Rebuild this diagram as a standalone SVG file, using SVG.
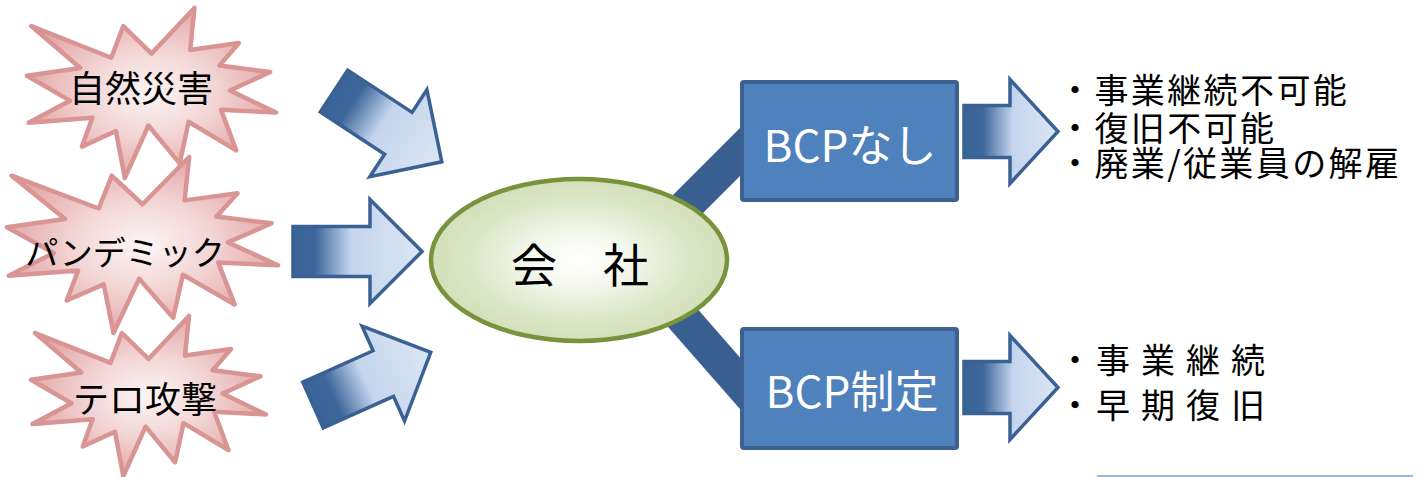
<svg xmlns="http://www.w3.org/2000/svg" xmlns:xlink="http://www.w3.org/1999/xlink" width="1426" height="477" viewBox="0 0 1426 477">
<style>
.star{fill:url(#starFill);stroke:#d99594;stroke-width:4.5;stroke-linejoin:round}
.jp{font-family:"Noto Sans CJK JP","Noto Sans",sans-serif}
.starTxt{font-size:36px;fill:#000;text-anchor:middle}
.bigArrow{fill:url(#gradL);stroke:#3a6194;stroke-width:3.5;stroke-linejoin:miter}
.smallArrow{fill:url(#gradR);stroke:#3a6194;stroke-width:3.5;stroke-linejoin:miter}
.band{stroke:#395f90;stroke-width:34;fill:none}
.box{fill:#4f81bd;stroke:#3c6191;stroke-width:4}
.boxTxt{font-size:44px;fill:#fff;text-anchor:middle}
.list{font-size:34px;fill:#000;letter-spacing:2.4px}
.list2{font-size:34px;fill:#000}
</style>
<defs>
<radialGradient id="starFill" cx="0.5" cy="0.5" r="0.5">
<stop offset="0" stop-color="#fdf5f5"/>
<stop offset="0.5" stop-color="#f3d6d6"/>
<stop offset="1" stop-color="#e4aaaa"/>
</radialGradient>
<radialGradient id="ovalFill" cx="0.5" cy="0.5" r="0.5">
<stop offset="0" stop-color="#ffffff"/>
<stop offset="0.3" stop-color="#f6f9ef"/>
<stop offset="0.75" stop-color="#dbe6c6"/>
<stop offset="1" stop-color="#d3e0ba"/>
</radialGradient>
<linearGradient id="gradL" gradientUnits="userSpaceOnUse" x1="0" y1="0" x2="129" y2="0">
<stop offset="0" stop-color="#3a6398"/>
<stop offset="0.17" stop-color="#3d669a"/>
<stop offset="0.45" stop-color="#c4d5ee"/>
<stop offset="1" stop-color="#dce6f3"/>
</linearGradient>
<linearGradient id="gradR" gradientUnits="userSpaceOnUse" x1="0" y1="0" x2="94" y2="0">
<stop offset="0" stop-color="#3a6398"/>
<stop offset="0.2" stop-color="#3d669a"/>
<stop offset="0.52" stop-color="#c4d5ee"/>
<stop offset="1" stop-color="#dce6f3"/>
</linearGradient>
<polygon id="burst" vector-effect="non-scaling-stroke" points="108,58 145.22,0 141.55,53.25 183.8,44.57 167.02,73.15 210.97,81.37 176.07,104.75 216,132.9 168.37,129.42 181.45,180.95 140.2,144.57 132.47,197.37 105.32,149.35 84.85,216 77.15,156.27 47.62,176.17 56.67,139.37 1.35,145.87 37.22,117.75 0,86.15 46.27,76.17 3.7,22.95 73.12,63.2 83.52,22.95"/>
</defs>

<g id="connectors">
<line class="band" x1="640" y1="252" x2="780" y2="112"/>
<line class="band" x1="640" y1="269" x2="780" y2="429"/>
</g>

<g id="arrows-in">
<path class="bigArrow" transform="translate(334,91) rotate(33.3)" d="M0,-25 L77,-25 L77,-52 L129,0 L77,52 L77,25 L0,25 Z"/>
<path class="bigArrow" transform="translate(293,251.5)" d="M0,-25 L77,-25 L77,-52 L129,0 L77,52 L77,25 L0,25 Z"/>
<path class="bigArrow" transform="translate(313,405) rotate(-24.1)" d="M0,-25 L77,-25 L77,-52 L129,0 L77,52 L77,25 L0,25 Z"/>
</g>

<g id="arrows-out">
<path class="smallArrow" transform="translate(964,131.5)" d="M0,-26 L46,-26 L46,-52 L94,0 L46,52 L46,26 L0,26 Z"/>
<path class="smallArrow" transform="translate(964,387.5)" d="M0,-26 L46,-26 L46,-52 L94,0 L46,52 L46,26 L0,26 Z"/>
</g>

<g id="node-shizen">
<use xlink:href="#burst" class="star" transform="translate(27,8) scale(1.1528,0.787)"/>
<text class="jp starTxt" x="141" y="102">自然災害</text>
</g>
<g id="node-pandemic">
<use xlink:href="#burst" class="star" transform="translate(7,157) scale(1.2546,0.8148)"/>
<text class="jp starTxt" x="125" y="265" style="font-size:33px">パンデミック</text>
</g>
<g id="node-terro">
<use xlink:href="#burst" class="star" transform="translate(31,316) scale(1.088,0.7407)"/>
<text class="jp starTxt" x="145" y="413">テロ攻撃</text>
</g>

<g id="node-company">
<ellipse cx="579" cy="260" rx="148" ry="81" fill="url(#ovalFill)" stroke="#77933c" stroke-width="4.5"/>
<text class="jp" x="580" y="282" font-size="46" text-anchor="middle" fill="#000">会　社</text>
</g>

<g id="node-nobcp">
<rect class="box" x="742" y="82" width="215" height="118" rx="2"/>
<text class="jp boxTxt" x="850" y="162">BCPなし</text>
</g>
<g id="node-bcp">
<rect class="box" x="742" y="329" width="215" height="119" rx="2"/>
<text class="jp boxTxt" x="852" y="408">BCP制定</text>
</g>

<g id="result-nobcp">
<text class="jp list"><tspan x="1058" y="103">・事業継続不可能</tspan><tspan x="1058" y="141">・復旧不可能</tspan><tspan x="1058" y="176">・廃業/従業員の解雇</tspan></text>
</g>
<g id="result-bcp">
<text class="jp list2"><tspan x="1058 1096 1141 1186 1231" y="373">・事業継続</tspan><tspan x="1058 1096 1141 1186 1231" y="418">・早期復旧</tspan></text>
</g>

<line x1="1097" y1="476" x2="1413" y2="476" stroke="#7f9cc4" stroke-width="1.5"/>
</svg>
